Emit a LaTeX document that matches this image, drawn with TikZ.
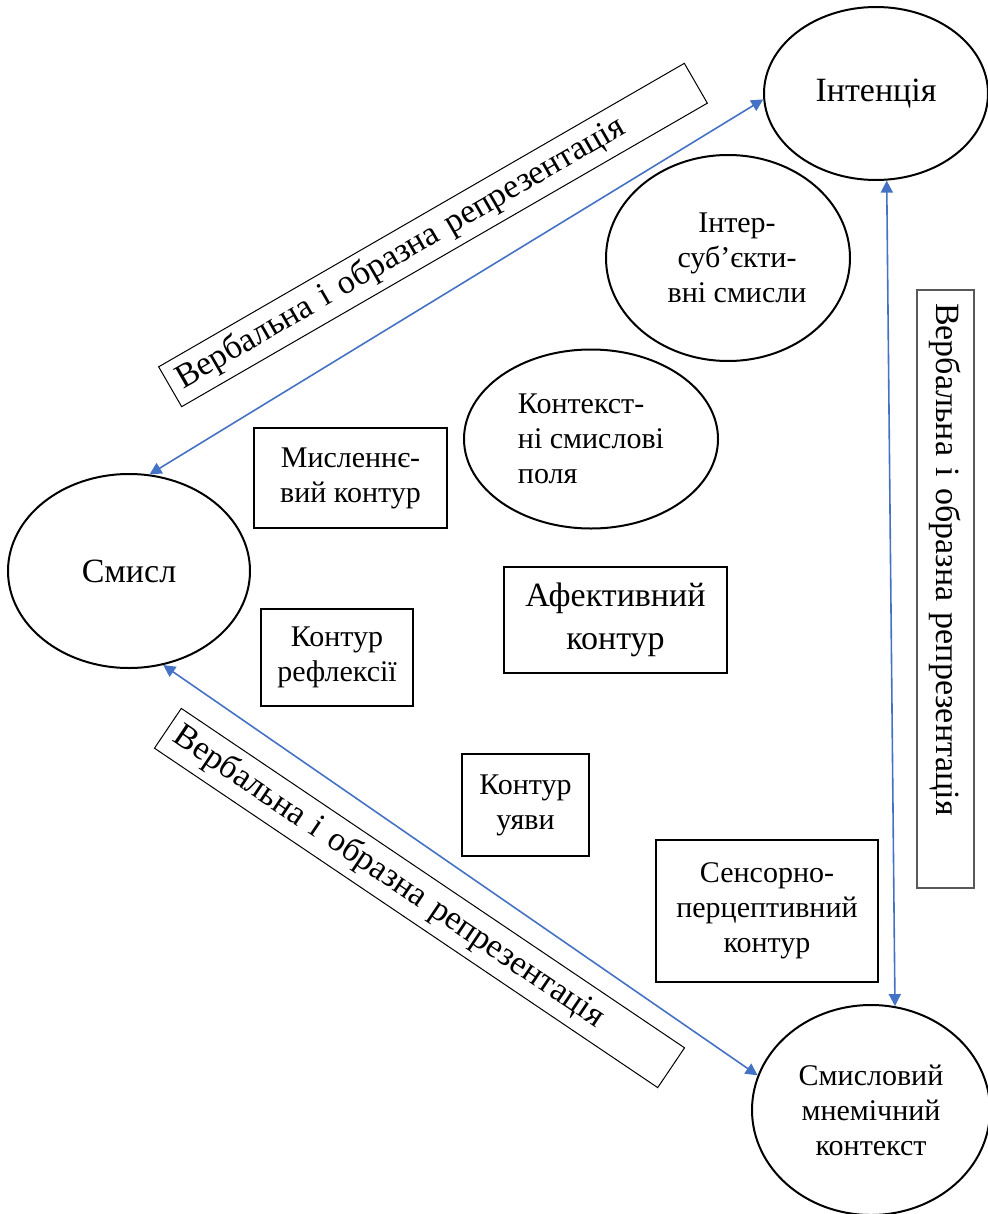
\documentclass[tikz,border=0pt]{standalone}
\usepackage{fontspec}
\setmainfont{Liberation Serif}
\usetikzlibrary{shapes.geometric,arrows.meta}
\definecolor{arrowblue}{HTML}{4472C4}
\newcommand{\fsmall}{\fontsize{15}{17.5}\selectfont}
\newcommand{\fbig}{\fontsize{17}{21.5}\selectfont}
\begin{document}
\begin{tikzpicture}[x=0.5pt,y=-0.5pt,
  ell/.style={draw, ellipse, line width=1pt, inner sep=1pt, align=center},
  rbox/.style={draw, rectangle, line width=1pt, inner sep=2pt, align=center},
  lbl/.style={draw, line width=0.5pt, inner xsep=5pt, inner ysep=1pt, align=left, font=\fbig},
  conn/.style={draw=arrowblue, line width=0.8pt, {Triangle[length=6pt,width=6pt]}-{Triangle[length=6pt,width=6pt]}}]
\useasboundingbox (0,0) rectangle (988,1214);

% ellipses
\node[ell, minimum width=112pt, minimum height=86.5pt, font=\fbig] (int) at (876,93.5) {Інтенція};
\node[ell, minimum width=122pt, minimum height=103pt, font=\fsmall] (inter) at (728,258) {\hspace*{9pt}Інтер-\\\hspace*{9pt}суб’єкти-\\\hspace*{9pt}вні смисли};
\node[ell, minimum width=127pt, minimum height=89.5pt, font=\fsmall, align=left] (ctx) at (591,439) {Контекст-\\ні смислові\\поля};
\node[ell, minimum width=121pt, minimum height=97pt, font=\fbig] (smysl) at (129,571) {Смисл};
\node[ell, minimum width=119pt, minimum height=105pt, font=\fsmall] (mnem) at (871,1110) {Смисловий\\мнемічний\\контекст};

% rectangles
\node[rbox, minimum width=96.5pt, minimum height=50pt, font=\fsmall] (mysl) at (350.5,478) {Мисленнє-\\вий контур};
\node[rbox, minimum width=76pt, minimum height=48.5pt, font=\fsmall] (refl) at (337,657.5) {Контур\\рефлексії};
\node[rbox, minimum width=111.5pt, minimum height=53pt, font=\fbig] (afekt) at (615.5,620) {Афективний\\контур};
\node[rbox, minimum width=63.5pt, minimum height=51pt, font=\fsmall] (uyavy) at (525.5,805) {Контур\\уяви};
\node[rbox, minimum width=111pt, minimum height=71pt, font=\fsmall] (sensor) at (767,911) {Сенсорно-\\перцептивний\\контур};

% rotated labels
\node[lbl, rotate=30, text width=293.5pt, minimum height=23pt] (lbltop) at (433,235) {Вербальна і образна репрезентація};
\node[lbl, rotate=-34, text width=293.5pt, minimum height=24pt] (lblbot) at (419.5,898) {Вербальна і образна репрезентація};
\node[lbl, draw=black!65, line width=0.6pt, rotate=-90, inner xsep=6.5pt, text width=286pt, minimum height=28.5pt] (lblright) at (945.5,589) {Вербальна і образна репрезентація};

% connectors
\draw[conn] (smysl.78) -- (int.183);
\draw[conn] (smysl.290) -- (mnem.163);
\draw[conn] (int.277) -- (mnem.77);
\end{tikzpicture}
\end{document}
